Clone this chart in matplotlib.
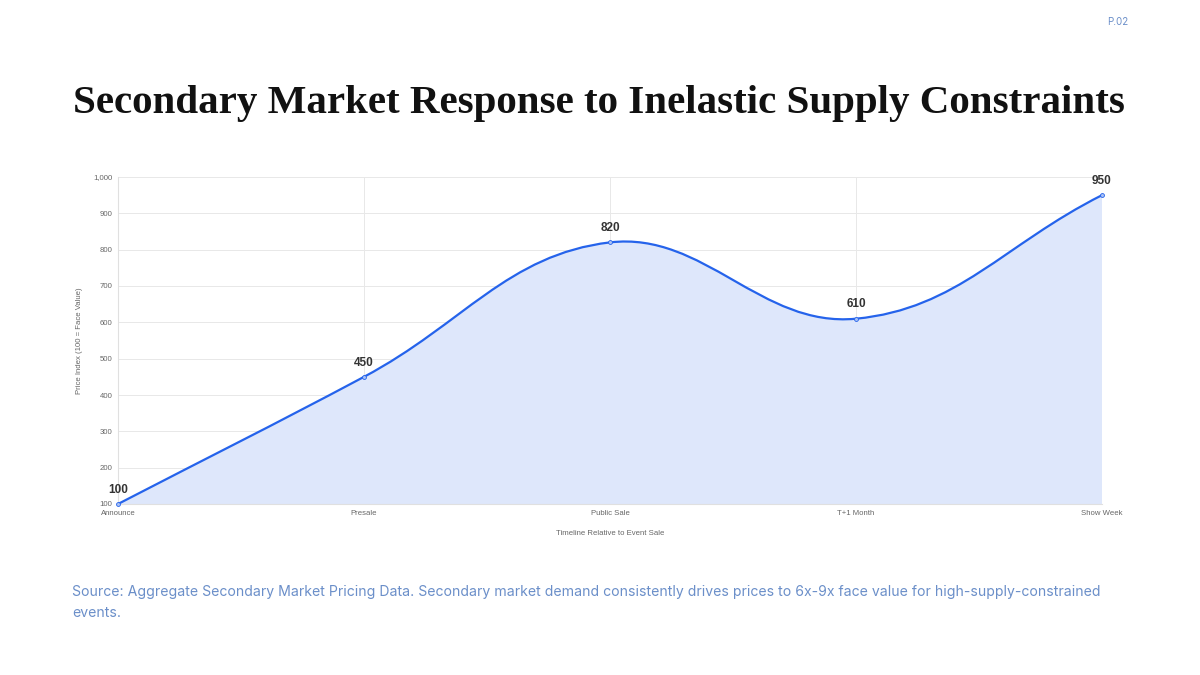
import matplotlib
matplotlib.use("Agg")
import matplotlib.pyplot as plt
import numpy as np
from matplotlib.path import Path
from matplotlib.patches import PathPatch
from matplotlib.ticker import FuncFormatter

categories = ["Announce", "Presale", "Public Sale", "T+1 Month", "Show Week"]
values = [100, 450, 820, 610, 950]
y_ticks = [100, 200, 300, 400, 500, 600, 700, 800, 900, 1000]

title = "Secondary Market Response to Inelastic Supply Constraints"
page = "P.02"
y_label = "Price Index (100 = Face Value)"
x_label = "Timeline Relative to Event Sale"
source_line1 = ("Source: Aggregate Secondary Market Pricing Data. Secondary market demand consistently "
                "drives prices to 6x-9x face value for high-supply-constrained")
source_line2 = "events."

LINE = "#2563eb"
FILL = "#dee7fb"
GRID = "#e8e8e8"
TICK = "#666666"
SRC = "#6b8fc9"

W, H, DPI = 1200, 675, 100
fig = plt.figure(figsize=(W / DPI, H / DPI), dpi=DPI)
fig.patch.set_facecolor("white")

x0, x1, ytop, ybot = 118, 1102, 177, 504
ax = fig.add_axes([x0 / W, 1 - ybot / H, (x1 - x0) / W, (ybot - ytop) / H])
xs = np.arange(len(categories))
ax.set_xlim(0, len(categories) - 1)
ax.set_ylim(100, 1000)

# Chart.js-style tension spline computed in pixel space
pts = ax.transData.transform(np.column_stack([xs, values]))
t = 0.4
n = len(pts)
cp_prev = np.zeros_like(pts)
cp_next = np.zeros_like(pts)
bb = ax.bbox
for i in range(n):
    cur = pts[i]
    prv = pts[i - 1] if i > 0 else cur
    nxt = pts[i + 1] if i < n - 1 else cur
    d01 = np.hypot(*(cur - prv))
    d12 = np.hypot(*(nxt - cur))
    s = d01 + d12
    s01 = d01 / s if s else 0
    s12 = d12 / s if s else 0
    cp_prev[i] = cur - t * s01 * (nxt - prv)
    cp_next[i] = cur + t * s12 * (nxt - prv)
for arr in (cp_prev, cp_next):
    arr[:, 0] = np.clip(arr[:, 0], bb.x0, bb.x1)
    arr[:, 1] = np.clip(arr[:, 1], bb.y0, bb.y1)

inv = ax.transData.inverted()
verts = [pts[0]]
codes = [Path.MOVETO]
for i in range(n - 1):
    verts += [cp_next[i], cp_prev[i + 1], pts[i + 1]]
    codes += [Path.CURVE4] * 3
verts_d = inv.transform(np.array(verts))

line_path = Path(verts_d, codes)
fill_verts = np.vstack([verts_d, [[xs[-1], 100], [xs[0], 100], verts_d[0]]])
fill_codes = codes + [Path.LINETO, Path.LINETO, Path.CLOSEPOLY]
ax.add_patch(PathPatch(Path(fill_verts, fill_codes), facecolor=FILL, edgecolor="none", zorder=2))
ax.add_patch(PathPatch(line_path, facecolor="none", edgecolor=LINE, lw=1.6, zorder=4, capstyle="round"))
ax.plot(xs, values, "o", ms=2.8, mfc="#a9c1f5", mec=LINE, mew=0.6, zorder=5, clip_on=False)

for xv, v in zip(xs, values):
    ax.annotate(f"{v}", (xv, v), xytext=(0, 6), textcoords="offset points",
                ha="center", va="bottom", fontsize=8.5, fontweight="bold",
                color="#333333", family="Liberation Sans", zorder=6)

ax.set_xticks(xs)
ax.set_xticklabels(categories)
ax.set_yticks(y_ticks)
ax.yaxis.set_major_formatter(FuncFormatter(lambda v, p: f"{int(v):,}"))
ax.tick_params(axis="both", length=0, labelsize=5.6, labelcolor=TICK, pad=4)
for lab in ax.get_xticklabels() + ax.get_yticklabels():
    lab.set_family("Liberation Sans")
ax.grid(True, color=GRID, lw=0.7, zorder=1)
ax.set_axisbelow(True)
for s in ["top", "right"]:
    ax.spines[s].set_visible(False)
for s in ["left", "bottom"]:
    ax.spines[s].set_color("#e0e0e0")
    ax.spines[s].set_linewidth(0.8)
ax.set_ylabel(y_label, fontsize=5.6, color=TICK, family="Liberation Sans", labelpad=7)
ax.set_xlabel(x_label, fontsize=5.6, color=TICK, family="Liberation Sans", labelpad=10)

r = fig.canvas.get_renderer()

# title fitted to width
tt = fig.text(73 / W, 1 - 113 / H, title, ha="left", va="baseline",
              fontsize=30, fontweight="bold", family="Liberation Serif", color="#111111")
w = tt.get_window_extent(r).width
tt.set_fontsize(30 * 1050 / w)

fig.text(1128 / W, 1 - 22 / H, page, ha="right", va="center", fontsize=7,
         color=SRC, family="Inter")

s1 = fig.text(72 / W, 1 - 592 / H, source_line1, ha="left", va="center", fontsize=10.5,
              color=SRC, family="Inter")
w = s1.get_window_extent(r).width
fs = 10.5 * 1020 / w
s1.set_fontsize(fs)
fig.text(72 / W, 1 - 613 / H, source_line2, ha="left", va="center", fontsize=fs,
         color=SRC, family="Inter")

fig.savefig("out.png", dpi=DPI, facecolor="white")
